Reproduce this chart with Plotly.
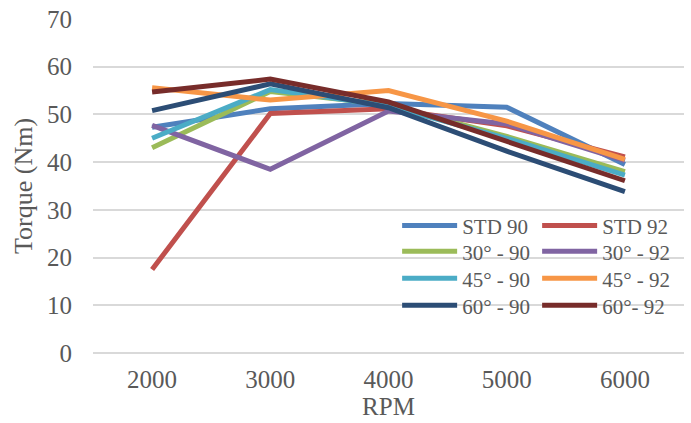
import plotly.graph_objects as go

# Engine speed categories (x axis)
rpm = ["2000", "3000", "4000", "5000", "6000"]

# Torque in Nm for each configuration
std_90 = [47.3, 51.2, 52.3, 51.5, 39.5]
std_92 = [17.5, 50.2, 51.2, 47.6, 41.1]
deg30_90 = [43.0, 54.8, 52.0, 45.4, 38.0]
deg30_92 = [47.7, 38.5, 50.7, 48.0, 40.3]
deg45_90 = [45.0, 55.2, 51.8, 45.0, 37.3]
deg45_92 = [55.6, 53.0, 55.0, 48.6, 40.6]
deg60_90 = [50.8, 56.4, 51.4, 42.3, 33.8]
deg60_92 = [54.7, 57.4, 52.6, 44.3, 36.1]

# Each legend row holds a "90" / "92" pair, laid out horizontally
series = [
    ("STD 90", std_90, "#4F81BD", "legend"),
    ("STD 92", std_92, "#C0504D", "legend"),
    ("30° - 90", deg30_90, "#9BBB59", "legend2"),
    ("30° - 92", deg30_92, "#8064A2", "legend2"),
    ("45° - 90", deg45_90, "#4BACC6", "legend3"),
    ("45° - 92", deg45_92, "#F79646", "legend3"),
    ("60° - 90", deg60_90, "#2C4D75", "legend4"),
    ("60°- 92", deg60_92, "#772C2A", "legend4"),
]

FONT = "Liberation Serif"
TEXT = "#595959"
GRID = "#D9D9D9"

fig = go.Figure()
for name, vals, color, lg in series:
    fig.add_trace(go.Scatter(
        x=rpm, y=vals, name=name, mode="lines",
        line=dict(color=color, width=5),
        legend=lg,
    ))

legend_common = dict(
    font=dict(family=FONT, size=21, color=TEXT),
    bgcolor="rgba(255,255,255,0)",
    orientation="h",
    yanchor="top",
    xanchor="left",
    x=0.5146,
    itemwidth=55,
    entrywidth=70,
    entrywidthmode="pixels",
    traceorder="normal",
)

fig.update_layout(
    width=691, height=423,
    margin=dict(l=93, r=7, t=19, b=70, autoexpand=False),
    paper_bgcolor="white",
    plot_bgcolor="white",
    font=dict(family=FONT, color=TEXT),
    showlegend=True,
    legend=dict(y=0.4424, **legend_common),
    legend2=dict(y=0.3647, **legend_common),
    legend3=dict(y=0.2839, **legend_common),
    legend4=dict(y=0.2031, **legend_common),
    xaxis=dict(
        type="category",
        categoryorder="array",
        categoryarray=rpm,
        range=[-0.5, 4.5],
        showgrid=False,
        showline=False,
        ticks="",
        tickfont=dict(family=FONT, size=25, color=TEXT),
        ticklabelstandoff=9,
        title=dict(text="RPM", font=dict(family=FONT, size=25, color=TEXT), standoff=0),
    ),
    yaxis=dict(
        range=[0, 70],
        dtick=10,
        tick0=0,
        showgrid=True,
        gridcolor=GRID,
        gridwidth=1.5,
        zeroline=True,
        zerolinecolor=GRID,
        zerolinewidth=1.5,
        showline=False,
        ticks="",
        tickfont=dict(family=FONT, size=25, color=TEXT),
        ticklabelstandoff=20,
        title=dict(text="Torque (Nm)", font=dict(family=FONT, size=26, color=TEXT), standoff=6),
    ),
)

fig.write_html("out.html")
